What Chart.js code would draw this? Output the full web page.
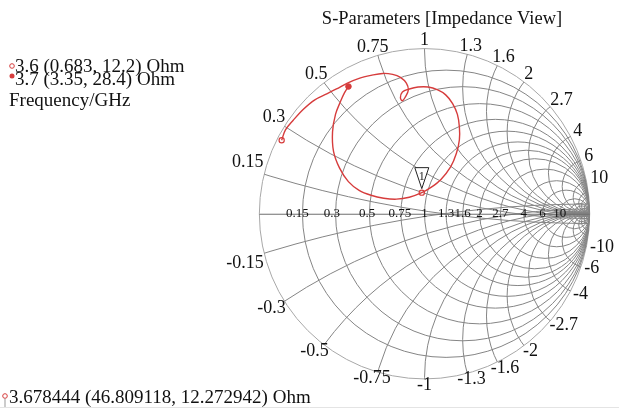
<!DOCTYPE html>
<html>
<head>
<meta charset="utf-8">
<title>S-Parameters [Impedance View]</title>
<script src="https://cdn.jsdelivr.net/npm/chart.js@4/dist/chart.umd.min.js"></script>
<style>
  html, body { margin: 0; padding: 0; background: #fff; }
  #wrap { width: 619px; height: 408px; }
</style>
</head>
<body>
<div id="wrap"><canvas id="smith" width="619" height="408"></canvas></div>
<script>
// Reference impedance (Ohm)
const z0 = 50;

// Grid: constant-resistance circles and constant-reactance arcs (normalised)
const resistanceTicks = [0.15, 0.3, 0.5, 0.75, 1, 1.3, 1.6, 2, 2.7, 4, 6, 10];
const reactanceTicks = [0.15, 0.3, 0.5, 0.75, 1, 1.3, 1.6, 2, 2.7, 4, 6, 10];
const denseTicks = [15, 20, 30, 50, 100];

// S11 trace (reflection coefficient), 3.6 GHz up to marker 1
const traceReA = [-0.842, -0.795, -0.735, -0.664, -0.592, -0.533, -0.467, -0.396, -0.324, -0.253,
                  -0.193, -0.146, -0.110, -0.098, -0.116, -0.134, -0.146, -0.134, -0.092, -0.039,
                  0.021, 0.080, 0.128, 0.170, 0.199, 0.211, 0.211, 0.193, 0.158, 0.098, 0.039];
const traceImA = [0.512, 0.571, 0.637, 0.696, 0.732, 0.762, 0.798, 0.827, 0.845, 0.857,
                  0.851, 0.833, 0.798, 0.756, 0.714, 0.690, 0.708, 0.744, 0.762, 0.774,
                  0.774, 0.756, 0.726, 0.673, 0.607, 0.530, 0.452, 0.369, 0.286, 0.208, 0.161];
// marker 1 up to 3.7 GHz
const traceReB = [-0.092, -0.170, -0.247, -0.324, -0.396, -0.461, -0.515, -0.551, -0.557, -0.539, -0.509, -0.485];
const traceImB = [0.101, 0.089, 0.095, 0.113, 0.143, 0.196, 0.280, 0.381, 0.500, 0.607, 0.685, 0.738];

// Start, stop and marker 1: frequency (GHz), R and X (Ohm)
const markerFreq = [3.6, 3.7, 3.678444];
const markerR = [0.683, 3.35, 46.809118];
const markerX = [12.2, 28.4, 12.272942];

// Layout of the chart disc on the canvas
const W = 619, H = 408;
const centerPx = { x: 426.5, y: 214 };
const radiusPx = 168;

const RED = '#d63c3c';
const GRID = '#858585';
const SERIF = "'Liberation Serif', 'Times New Roman', serif";

// Z (Ohm) -> reflection coefficient
function gamma(r, x) {
    const a = r / z0, b = x / z0;
    const den = (a + 1) * (a + 1) + b * b;
    return { x: (a * a + b * b - 1) / den, y: (2 * b) / den };
}

const pts = markerR.map((r, i) => gamma(r, markerX[i]));
const gStart = pts[0], gStop = pts[1], gMarker = pts[2];

const traceData = [gStart]
    .concat(traceReA.map((v, i) => ({ x: v, y: traceImA[i] })))
    .concat([gMarker])
    .concat(traceReB.map((v, i) => ({ x: v, y: traceImB[i] })))
    .concat([gStop]);

const fmt = i => `${markerFreq[i]} (${markerR[i]}, ${markerX[i]}) Ohm`;

// Smith grid behind the datasets
const smithGrid = {
    id: 'smithGrid',
    beforeDatasetsDraw(chart) {
        const { ctx, scales: { x: sx, y: sy } } = chart;
        const px = v => sx.getPixelForValue(v);
        const py = v => sy.getPixelForValue(v);
        const unit = px(1) - px(0);
        const cx = px(0), cy = py(0);

        ctx.save();
        ctx.lineWidth = 1;

        ctx.beginPath();
        ctx.arc(cx, cy, unit, 0, Math.PI * 2);
        ctx.strokeStyle = '#a8a8a8';
        ctx.stroke();
        ctx.clip();

        ctx.strokeStyle = GRID;
        const rAll = resistanceTicks.concat(denseTicks);
        rAll.forEach(r => {
            ctx.beginPath();
            ctx.arc(px(r / (1 + r)), cy, unit / (1 + r), 0, Math.PI * 2);
            ctx.stroke();
        });
        const xAll = reactanceTicks.concat(denseTicks);
        xAll.forEach(x => {
            [1, -1].forEach(s => {
                ctx.beginPath();
                ctx.arc(px(1), py(s / x), unit / x, 0, Math.PI * 2);
                ctx.stroke();
            });
        });
        ctx.restore();

        // real axis
        ctx.save();
        ctx.strokeStyle = '#6e6e6e';
        ctx.lineWidth = 1;
        ctx.beginPath();
        ctx.moveTo(px(-1), cy + 0.5);
        ctx.lineTo(px(1), cy + 0.5);
        ctx.stroke();

        // resistance values along the real axis
        ctx.fillStyle = '#111';
        ctx.font = `13px ${SERIF}`;
        ctx.textAlign = 'center';
        ctx.textBaseline = 'alphabetic';
        resistanceTicks.forEach(r => {
            const g = (r - 1) / (r + 1);
            ctx.fillText(String(r), px(g) + Math.min(0, g) * 7, cy + 3);
        });

        // reactance values round the rim
        ctx.font = `18px ${SERIF}`;
        ctx.textBaseline = 'middle';
        reactanceTicks.forEach(x => {
            [1, -1].forEach(s => {
                const gx = (x * x - 1) / (x * x + 1);
                const gy = s * 2 * x / (x * x + 1);
                const text = (s < 0 ? '-' : '') + x;
                const w = ctx.measureText(text).width;
                const ux = gx, uy = -gy;
                const tx = px(gx) + ux * (w / 2 + 4);
                const ty = py(gy) + uy * 9 - 1;
                ctx.fillText(text, tx, ty);
            });
        });
        ctx.restore();
    },
    afterDatasetsDraw(chart) {
        const { ctx, scales: { x: sx, y: sy } } = chart;
        const mx = sx.getPixelForValue(gMarker.x);
        const my = sy.getPixelForValue(gMarker.y);

        // marker 1 flag
        ctx.save();
        ctx.beginPath();
        ctx.moveTo(mx - 7, my - 25);
        ctx.lineTo(mx + 7, my - 25);
        ctx.lineTo(mx, my - 4);
        ctx.closePath();
        ctx.fillStyle = '#fff';
        ctx.fill();
        ctx.strokeStyle = '#222';
        ctx.lineWidth = 1;
        ctx.stroke();
        ctx.fillStyle = '#222';
        ctx.font = `12px ${SERIF}`;
        ctx.textAlign = 'center';
        ctx.textBaseline = 'alphabetic';
        ctx.fillText('1', mx, my - 13);
        ctx.restore();
    },
    afterDraw(chart) {
        const { ctx } = chart;
        ctx.save();
        ctx.fillStyle = '#111';
        ctx.textBaseline = 'alphabetic';

        ctx.font = `18.5px ${SERIF}`;
        ctx.textAlign = 'center';
        ctx.fillText('S-Parameters [Impedance View]', 442, 24);

        ctx.font = `19px ${SERIF}`;
        ctx.textAlign = 'left';
        ctx.fillText(fmt(0), 15, 72);
        ctx.fillText(fmt(1), 15, 85);
        ctx.fillText('Frequency/GHz', 9, 106);
        ctx.fillText(fmt(2), 9, 403);

        // legend symbols
        ctx.lineWidth = 1;
        ctx.strokeStyle = RED;
        ctx.fillStyle = '#fff';
        ctx.beginPath();
        ctx.arc(12, 66, 2.3, 0, Math.PI * 2);
        ctx.fill();
        ctx.stroke();
        ctx.fillStyle = RED;
        ctx.beginPath();
        ctx.arc(12, 76, 2.5, 0, Math.PI * 2);
        ctx.fill();

        ctx.beginPath();
        ctx.arc(5, 396, 2.3, 0, Math.PI * 2);
        ctx.stroke();
        ctx.beginPath();
        ctx.moveTo(5, 398.5);
        ctx.lineTo(5, 407);
        ctx.strokeStyle = '#999';
        ctx.stroke();

        // thin frame line at the bottom
        ctx.strokeStyle = '#e4e4e4';
        ctx.beginPath();
        ctx.moveTo(0, 407.5);
        ctx.lineTo(W, 407.5);
        ctx.stroke();
        ctx.restore();
    }
};

new Chart(document.getElementById('smith'), {
    type: 'scatter',
    data: {
        datasets: [
            {
                label: 'S11',
                data: traceData,
                showLine: true,
                borderColor: RED,
                borderWidth: 1.4,
                pointRadius: 0,
                tension: 0.35,
                fill: false
            },
            {
                label: markerFreq[0] + ' GHz',
                data: [gStart],
                pointRadius: 2.6,
                pointBackgroundColor: '#fff',
                pointBorderColor: RED,
                pointBorderWidth: 1.2
            },
            {
                label: markerFreq[1] + ' GHz',
                data: [gStop],
                pointRadius: 2.8,
                pointBackgroundColor: RED,
                pointBorderColor: RED
            },
            {
                label: 'Marker 1',
                data: [gMarker],
                pointRadius: 2.6,
                pointBackgroundColor: 'rgba(255,255,255,0.6)',
                pointBorderColor: RED,
                pointBorderWidth: 1.2
            }
        ]
    },
    options: {
        responsive: false,
        animation: false,
        events: [],
        clip: false,
        layout: { padding: 0 },
        scales: {
            x: {
                type: 'linear',
                display: false,
                min: -centerPx.x / radiusPx,
                max: (W - centerPx.x) / radiusPx
            },
            y: {
                type: 'linear',
                display: false,
                min: -(H - centerPx.y) / radiusPx,
                max: centerPx.y / radiusPx
            }
        },
        plugins: {
            legend: { display: false },
            tooltip: { enabled: false },
            title: { display: false }
        }
    },
    plugins: [smithGrid]
});
</script>
</body>
</html>
